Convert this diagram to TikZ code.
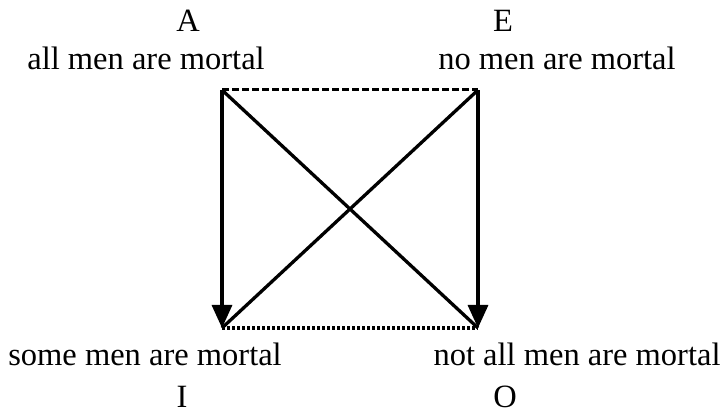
\documentclass[tikz,border=0pt]{standalone}
\usepackage{fontspec}
\setmainfont{Liberation Serif}
\usetikzlibrary{arrows.meta}
\begin{document}
\begin{tikzpicture}[
    x=1pt, y=-1pt,
    line width=3.3pt,
    >={Triangle[length=23pt,width=20pt]},
    every node/.style={inner sep=0pt, anchor=base, font=\fontsize{32.5}{38}\selectfont}
]
\useasboundingbox (0,0) rectangle (721,414);
% corners of the square
\coordinate (a) at (222,90);
\coordinate (e) at (478,90);
\coordinate (i) at (222,328);
\coordinate (o) at (478,328);
% letters and sentences
\node (A) at (188,32) {A};
\node (E) at (503,32) {E};
\node (allmen) at (146,70) {all men are mortal};
\node (nomen) at (557,70) {no men are mortal};
\node (somemen) at (145,366) {some men are mortal};
\node (notall) at (577,366) {not all men are mortal};
\node (I) at (182,407) {I};
\node (O) at (505,407) {O};
% sides and diagonals
\draw[->] (a) -- (i);
\draw[->] (e) -- (o);
\draw (a) -- (o);
\draw (e) -- (i);
\draw[line width=3pt, dash pattern=on 6.5pt off 3.5pt] (a) -- (e);
\draw[dash pattern=on 3pt off 2pt] (i) -- (o);
\end{tikzpicture}
\end{document}
